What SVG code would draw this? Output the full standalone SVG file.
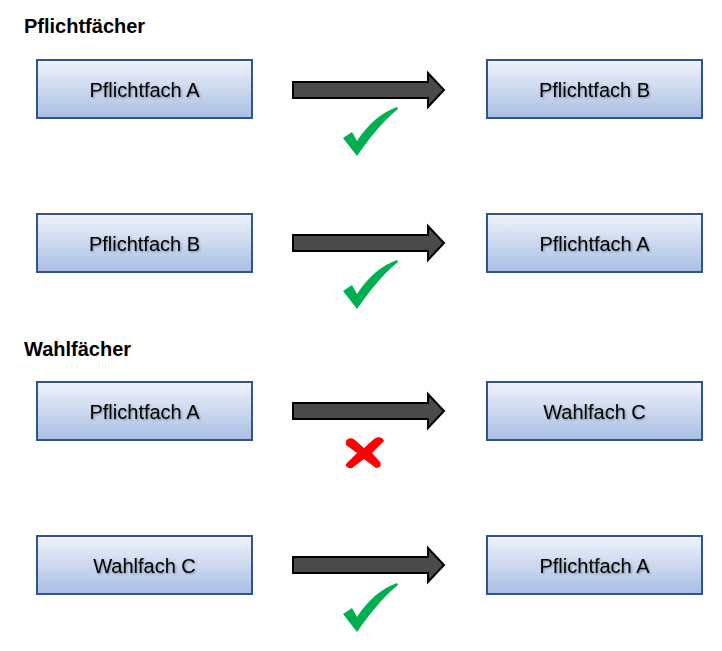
<svg xmlns="http://www.w3.org/2000/svg" width="722" height="651" viewBox="0 0 722 651">
<style>
.box{fill:url(#g);stroke:#2f5496;stroke-width:2}
.lbl{font-family:"Liberation Sans",Arial,sans-serif;font-size:20px;fill:#000;text-anchor:middle;filter:url(#sh)}
.hdr{font-family:"Liberation Sans",Arial,sans-serif;font-size:20px;font-weight:bold;fill:#000}
.arr{fill:#4a4a4a;stroke:#000;stroke-width:2;stroke-linejoin:miter}
.ok{fill:#00b050}
.no{fill:#ff0000}
</style>
<defs>
<linearGradient id="g" x1="0" y1="0" x2="0" y2="1">
<stop offset="0" stop-color="#f0f3fb"/>
<stop offset="1" stop-color="#a8bee3"/>
</linearGradient>
<filter id="sh" x="-10%" y="-30%" width="120%" height="160%">
<feDropShadow dx="1" dy="1" stdDeviation="0.8" flood-color="#000" flood-opacity="0.35"/>
</filter>
<path id="arrow" class="arr" d="M0,-8 L135,-8 L135,-17 L151,0 L135,17 L135,8 L0,8 Z"/>
<path id="check" class="ok" d="M0,31 L9,25 L14,34 C26,16 38,6 54,0 L55,2 C38,16 26,32 14,49 Z"/>
<path id="cross" class="no" d="M2,4 C5,0 9,1 12,4 L20,11 L30,2 C34,-1 39,0 40,4 L28,16 L36,25 C38,28 36,31 32,31 L20,22 L8,31 C4,32 1,29 2,27 L13,16 L2,8 Z"/>
</defs>
<text class="hdr" x="24" y="33">Pflichtfächer</text>
<text class="hdr" x="24" y="356">Wahlfächer</text>
<g id="n1"><rect class="box" x="37" y="60" width="215" height="58"/><text class="lbl" x="144.5" y="97">Pflichtfach A</text></g>
<g id="n2"><rect class="box" x="487" y="60" width="215" height="58"/><text class="lbl" x="594.5" y="97">Pflichtfach B</text></g>
<g id="n3"><rect class="box" x="37" y="214" width="215" height="58"/><text class="lbl" x="144.5" y="251">Pflichtfach B</text></g>
<g id="n4"><rect class="box" x="487" y="214" width="215" height="58"/><text class="lbl" x="594.5" y="251">Pflichtfach A</text></g>
<g id="n5"><rect class="box" x="37" y="382" width="215" height="58"/><text class="lbl" x="144.5" y="419">Pflichtfach A</text></g>
<g id="n6"><rect class="box" x="487" y="382" width="215" height="58"/><text class="lbl" x="594.5" y="419">Wahlfach C</text></g>
<g id="n7"><rect class="box" x="37" y="536" width="215" height="58"/><text class="lbl" x="144.5" y="573">Wahlfach C</text></g>
<g id="n8"><rect class="box" x="487" y="536" width="215" height="58"/><text class="lbl" x="594.5" y="573">Pflichtfach A</text></g>
<g id="connectors">
<use href="#arrow" x="293" y="90"/>
<use href="#arrow" x="293" y="243"/>
<use href="#arrow" x="293" y="411"/>
<use href="#arrow" x="293" y="565"/>
</g>
<g id="marks">
<use href="#check" x="343" y="107"/>
<use href="#check" x="343" y="260"/>
<use href="#cross" x="344" y="437"/>
<use href="#check" x="343" y="583"/>
</g>
</svg>
